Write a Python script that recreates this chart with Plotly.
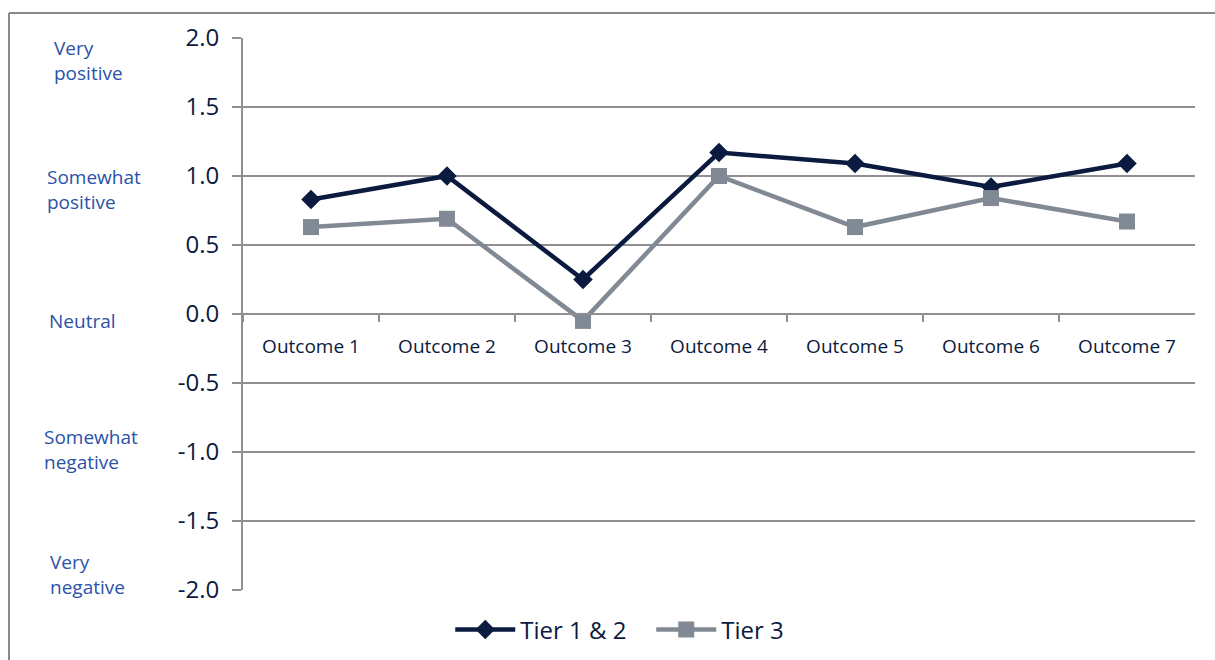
import plotly.graph_objects as go

W, H = 1215, 660

outcomes = ["Outcome 1", "Outcome 2", "Outcome 3", "Outcome 4",
            "Outcome 5", "Outcome 6", "Outcome 7"]
tier12 = [0.83, 1.00, 0.25, 1.17, 1.09, 0.92, 1.09]
tier3 = [0.63, 0.69, -0.05, 1.00, 0.63, 0.84, 0.67]

y_ticks = [2.0, 1.5, 1.0, 0.5, 0.0, -0.5, -1.0, -1.5, -2.0]
y_tick_text = ["2.0", "1.5", "1.0", "0.5", "0.0", "-0.5", "-1.0", "-1.5", "-2.0"]

scale_labels = ["Very<br>positive", "Somewhat<br>positive", "Neutral",
                "Somewhat<br>negative", "Very<br>negative"]

NAVY = "#0b1a3f"
GREY = "#818a94"
GRID = "#8e8e93"
LABEL_BLUE = "#2b52a8"
FONT = "Open Sans, Noto Sans, sans-serif"

# plot area in pixels
x0, x1 = 243, 1195
y_top, y_bot = 38, 590
y_zero = (y_top + y_bot) / 2

fig = go.Figure()
fig.add_trace(go.Scatter(
    x=outcomes, y=tier12, name="Tier 1 & 2", mode="lines+markers",
    line=dict(color=NAVY, width=4.5),
    marker=dict(symbol="diamond", size=15, color=NAVY),
))
fig.add_trace(go.Scatter(
    x=outcomes, y=tier3, name="Tier 3", mode="lines+markers",
    line=dict(color=GREY, width=4.5),
    marker=dict(symbol="square", size=16, color=GREY),
))

# scale descriptors on the far left
label_pos = [(52, 61), (45, 190), (47, 321), (42, 450), (48, 574)]
annotations = []
for txt, (px, py) in zip(scale_labels, label_pos):
    annotations.append(dict(
        x=px / W, y=1 - py / H, xref="paper", yref="paper",
        text=txt, showarrow=False,
        xanchor="left", yanchor="middle", align="left",
        font=dict(family=FONT, size=19, color=LABEL_BLUE),
    ))

# outer frame of the chart area
shapes = [
    dict(type="line", xref="paper", yref="paper",
         x0=9 / W, x1=1.0, y0=1 - 13 / H, y1=1 - 13 / H,
         line=dict(color="#8a8a8a", width=2)),
    dict(type="line", xref="paper", yref="paper",
         x0=9 / W, x1=9 / W, y0=1 - 13 / H, y1=0,
         line=dict(color="#8a8a8a", width=2)),
]

fig.update_layout(
    width=W, height=H,
    margin=dict(l=0, r=0, t=0, b=0),
    paper_bgcolor="white", plot_bgcolor="white",
    font=dict(family=FONT, color=NAVY),
    showlegend=True,
    legend=dict(orientation="h", x=0.536, y=1 - 630 / H,
                xanchor="center", yanchor="middle",
                font=dict(family=FONT, size=24, color=NAVY),
                itemwidth=60, entrywidth=126, tracegroupgap=0),
    xaxis=dict(
        domain=[x0 / W, x1 / W], anchor="free",
        position=1 - y_zero / H, automargin=False,
        type="category", range=[-0.5, 6.5],
        showgrid=False, showline=True, linecolor=GRID, linewidth=2,
        ticks="outside", ticklen=7, tickwidth=1.5, tickcolor=GRID,
        tickson="boundaries", ticklabelstandoff=15,
        tickfont=dict(family=FONT, size=19, color=NAVY),
        zeroline=False, fixedrange=True,
    ),
    yaxis=dict(
        domain=[1 - y_bot / H, 1 - y_top / H], automargin=False,
        range=[-2.0, 2.0], tickvals=y_ticks, ticktext=y_tick_text,
        showgrid=True, gridcolor=GRID, gridwidth=1.5,
        showline=True, linecolor=GRID, linewidth=2,
        ticks="outside", ticklen=9, tickwidth=1.5, tickcolor=GRID,
        ticklabelstandoff=8,
        tickfont=dict(family=FONT, size=24, color=NAVY),
        zeroline=False, fixedrange=True,
    ),
    annotations=annotations,
    shapes=shapes,
)

fig.write_html("out.html")
